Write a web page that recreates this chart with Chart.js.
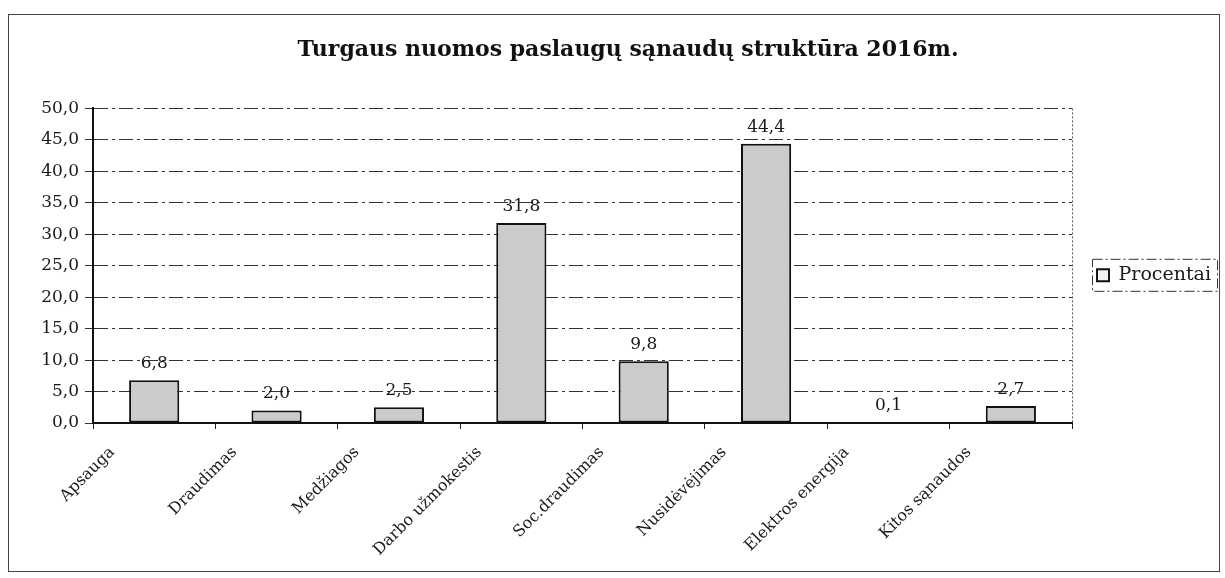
<!DOCTYPE html>
<html>
<head>
<meta charset="utf-8">
<script src="https://cdn.jsdelivr.net/npm/chart.js@4/dist/chart.umd.min.js"></script>
<style>
	html, body { margin: 0; padding: 0; background: #fff; }
	.frame { position: absolute; left: 8px; top: 14px; width: 1210px; height: 556px; border: 1px solid #444; }
	canvas { display: block; }
</style>
</head>
<body>
<div class="frame"><canvas id="costChart" width="1210" height="556"></canvas></div>
<script>
// chart data
const categories = [
	'Apsauga',
	'Draudimas',
	'Medžiagos',
	'Darbo užmokestis',
	'Soc.draudimas',
	'Nusidėvėjimas',
	'Elektros energija',
	'Kitos sąnaudos',
];
const percentValues = [6.8, 2.0, 2.5, 31.8, 9.8, 44.4, 0.1, 2.7];
const yTicks = [0, 5, 10, 15, 20, 25, 30, 35, 40, 45, 50];
const seriesName = 'Procentai';
const chartTitle = 'Turgaus nuomos paslaugų sąnaudų struktūra 2016m.';

const serif = '"DejaVu Serif", "Liberation Serif", serif';
Chart.defaults.font.family = serif;
Chart.defaults.color = '#1a1a1a';

function fmt(v) {
	return v.toFixed(1).replace('.', ',');
}

// value labels above the bars
const barLabels = {
	id: 'barLabels',
	afterDatasetsDraw(chart) {
		const ctx = chart.ctx;
		const meta = chart.getDatasetMeta(0);
		ctx.save();
		ctx.font = '17px ' + serif;
		ctx.fillStyle = '#1a1a1a';
		ctx.textAlign = 'center';
		ctx.textBaseline = 'bottom';
		meta.data.forEach(function (bar, i) {
			ctx.fillText(fmt(percentValues[i]), bar.x, bar.y - 8);
		});
		ctx.restore();
	},
};

// dotted right edge of the plot + box round the legend
const frameBits = {
	id: 'frameBits',
	afterDraw(chart) {
		const ctx = chart.ctx;
		const a = chart.chartArea;
		ctx.save();
		ctx.strokeStyle = '#555';
		ctx.lineWidth = 1;
		ctx.setLineDash([2, 2]);
		ctx.beginPath();
		ctx.moveTo(a.right + 0.5, a.top);
		ctx.lineTo(a.right + 0.5, a.bottom);
		ctx.stroke();
		const hb = chart.legend.legendHitBoxes[0];
		if (hb) {
			ctx.strokeStyle = '#333';
			ctx.setLineDash([10, 3, 2, 3]);
			ctx.strokeRect(hb.left - 4.5, hb.top - 6.5, hb.width + 11, hb.height + 13);
		}
		ctx.restore();
	},
};

const ctx = document.getElementById('costChart').getContext('2d');
const costChart = new Chart(ctx, {
	type: 'bar',
	data: {
		labels: categories,
		datasets: [
			{
				label: seriesName,
				data: percentValues,
				backgroundColor: '#cbcbcb',
				borderColor: '#111',
				borderWidth: 2,
				borderSkipped: false,
				categoryPercentage: 1,
				barPercentage: 0.41,
			},
		],
	},
	options: {
		responsive: false,
		animation: false,
		layout: { padding: { left: 26, right: -2, top: 22, bottom: 0 } },
		plugins: {
			title: {
				display: true,
				text: chartTitle,
				font: { size: 22, weight: 'bold', family: serif },
				color: '#111',
				padding: { top: 0, bottom: 45 },
			},
			legend: {
				position: 'right',
				fullSize: false,
				title: { display: true, text: ' ', font: { size: 1 }, padding: 9 },
				labels: {
					boxWidth: 12,
					boxHeight: 12,
					padding: 4,
					font: { size: 19, family: serif },
					generateLabels: function (chart) {
						return [{ text: seriesName, fillStyle: '#f2f2f2', strokeStyle: '#111', lineWidth: 2, datasetIndex: 0 }];
					},
				},
			},
			tooltip: { enabled: false },
		},
		scales: {
			x: {
				afterFit: function (scale) {
					scale.height = 148;
				},
				grid: { drawOnChartArea: false, drawTicks: true, tickLength: 6, color: '#222', offset: true },
				border: { color: '#111', width: 2 },
				ticks: {
					minRotation: 45,
					maxRotation: 45,
					labelOffset: -42,
					padding: 14,
					font: { size: 16, family: serif },
					color: '#1a1a1a',
				},
			},
			y: {
				min: 0,
				max: 50,
				afterBuildTicks: function (scale) {
					scale.ticks = yTicks.map(function (v) { return { value: v }; });
				},
				afterFit: function (scale) {
					scale.width = 58;
				},
				grid: { color: '#333', lineWidth: 1, tickLength: 8 },
				border: { color: '#111', width: 2, dash: [14, 4, 3, 4] },
				ticks: {
					padding: 6,
					font: { size: 17, family: serif },
					color: '#1a1a1a',
					callback: function (v) { return fmt(v); },
				},
			},
			// empty right-hand axis, only keeps a gap between plot and legend
			gap: {
				type: 'linear',
				position: 'right',
				afterFit: function (scale) {
					scale.width = 21;
				},
				grid: { display: false },
				border: { display: false },
				ticks: { display: false },
			},
		},
	},
	plugins: [barLabels, frameBits],
});
</script>
</body>
</html>
